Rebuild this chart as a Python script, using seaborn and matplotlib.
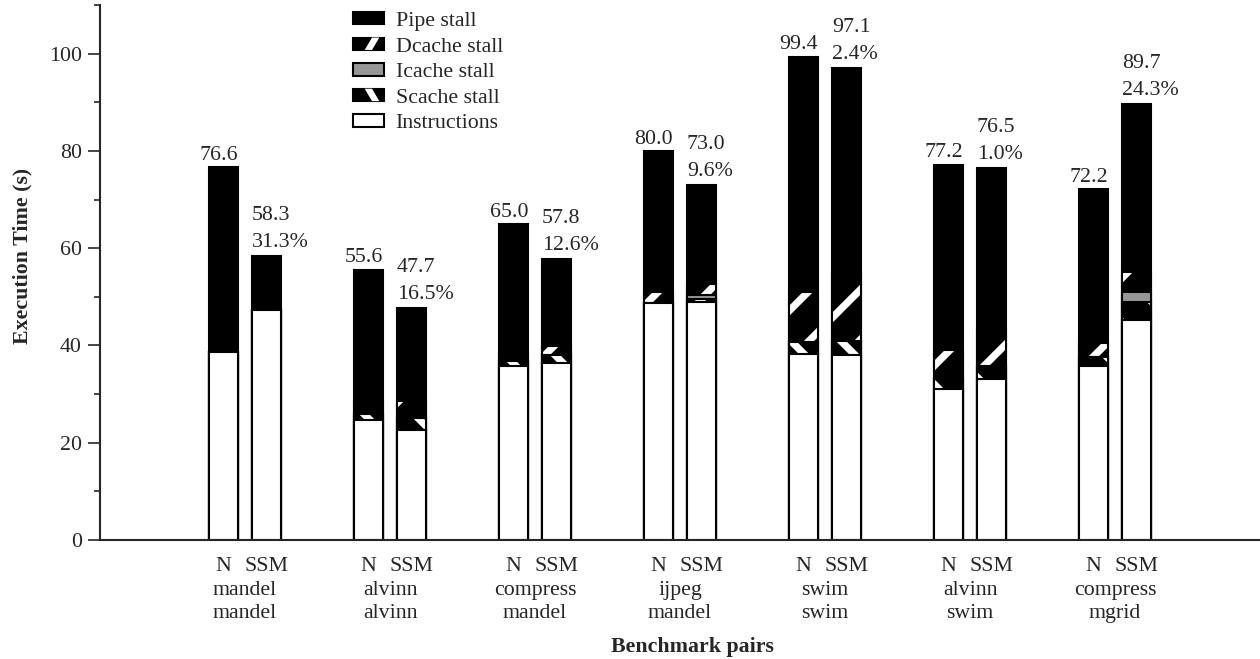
import matplotlib
matplotlib.use("Agg")
import numpy as np
import pandas as pd
import matplotlib.pyplot as plt
import matplotlib.transforms as mtransforms
from matplotlib.patches import Patch, Rectangle, Polygon
from matplotlib.legend_handler import HandlerBase
from matplotlib.ticker import MultipleLocator
import seaborn as sns

# ---------------- data ----------------
pairs = ["mandel\nmandel", "alvinn\nalvinn", "compress\nmandel", "ijpeg\nmandel",
         "swim\nswim", "alvinn\nswim", "compress\nmgrid"]
configs = ["N", "SSM"]

n_instructions = [38.7, 24.7, 35.7, 48.8, 38.3, 31.0, 35.8]
n_scache       = [0.0, 1.3, 1.2, 0.0, 2.5, 2.1, 1.9]
n_icache       = [0.0, 0.0, 0.0, 0.0, 0.0, 0.0, 0.0]
n_dcache       = [0.0, 2.5, 1.4, 2.1, 10.1, 6.0, 2.9]
n_total        = [76.6, 55.6, 65.0, 80.0, 99.4, 77.2, 72.2]

ssm_instructions = [47.2, 22.6, 36.4, 49.0, 38.0, 33.1, 45.3]
ssm_scache       = [0.0, 2.4, 1.7, 0.5, 3.0, 2.7, 3.7]
ssm_icache       = [0.0, 0.0, 0.0, 0.8, 0.0, 0.0, 2.0]
ssm_dcache       = [0.2, 3.5, 1.7, 2.3, 14.1, 7.4, 4.2]
ssm_total        = [58.3, 47.7, 57.8, 73.0, 97.1, 76.5, 89.7]
ssm_improvement  = [31.3, 16.5, 12.6, 9.6, 2.4, 1.0, 24.3]

# ---------------- table ----------------
rows = []
for cfg, ins, sc, ic, dc, tot in [
        ("N", n_instructions, n_scache, n_icache, n_dcache, n_total),
        ("SSM", ssm_instructions, ssm_scache, ssm_icache, ssm_dcache, ssm_total)]:
    for i, p in enumerate(pairs):
        c1 = ins[i]
        c2 = c1 + sc[i]
        c3 = c2 + ic[i]
        c4 = c3 + dc[i]
        c5 = tot[i]
        rows.append(dict(pair=p, config=cfg, c1=c1, c2=c2, c3=c3, c4=c4, c5=c5))
df = pd.DataFrame(rows)

# ---------------- style ----------------
sns.set_style("ticks")
plt.rcParams["font.family"] = ["Liberation Serif", "DejaVu Serif"]
plt.rcParams["hatch.linewidth"] = 3.5
plt.rcParams["axes.linewidth"] = 1.0

FS = 10.5
W, H = 1260, 659
fig = plt.figure(figsize=(W / 150, H / 150), dpi=150)
ax = fig.add_axes([100 / W, 1 - 540 / H, 1 - 100 / W, (540 - 5) / H])

layers = [
    ("Pipe stall", "c5", "black", None),
    ("Dcache stall", "c4", "black", "/"),
    ("Icache stall", "c3", "#969696", None),
    ("Scache stall", "c2", "black", "\\"),
    ("Instructions", "c1", "white", None),
]

top_patches = None
for name, col, color, hatch in layers:
    n0 = len(ax.patches)
    sns.barplot(data=df, x="pair", y=col, hue="config", order=pairs,
                hue_order=configs, palette={c: color for c in configs},
                width=0.59, gap=0.32, saturation=1, errorbar=None,
                edgecolor="black", linewidth=1.0, legend=False, ax=ax)
    new = ax.patches[n0:]
    for p in new:
        if hatch:
            p.set_hatch(hatch)
            p._hatch_color = (1, 1, 1, 1)
    if top_patches is None:
        top_patches = list(new)

# ---------------- annotations ----------------
tick_pos, tick_lab = [], []
for p in top_patches:
    cx = p.get_x() + p.get_width() / 2
    i = int(round(cx))
    h = p.get_height()
    if cx < i:
        tick_pos.append(cx); tick_lab.append("N")
        ax.annotate(f"{n_total[i]:.1f}", xy=(p.get_x() + p.get_width(), h),
                    xytext=(0, 3.4), textcoords="offset points",
                    ha="right", va="baseline", fontsize=FS)
    else:
        tick_pos.append(cx); tick_lab.append("SSM")
        ax.annotate(f"{ssm_improvement[i]:.1f}%", xy=(p.get_x(), h),
                    xytext=(0, 4.3), textcoords="offset points",
                    ha="left", va="baseline", fontsize=FS)
        ax.annotate(f"{ssm_total[i]:.1f}", xy=(p.get_x(), h),
                    xytext=(0, 17.3), textcoords="offset points",
                    ha="left", va="baseline", fontsize=FS)

order = np.argsort(tick_pos)
ax.set_xticks([tick_pos[k] for k in order], [tick_lab[k] for k in order])
ax.tick_params(axis="x", length=0, pad=8, labelsize=FS)

trans = mtransforms.blended_transform_factory(ax.transData, fig.transFigure)
for i, p in enumerate(pairs):
    a, b = p.split("\n")
    fig.text(i, 1 - 595 / H, a, transform=trans, ha="center", va="baseline", fontsize=FS)
    fig.text(i, 1 - 618 / H, b, transform=trans, ha="center", va="baseline", fontsize=FS)

# ---------------- axes ----------------
ax.set_xlim(-1, 7)
ax.set_ylim(0, 110)
ax.set_yticks([0, 20, 40, 60, 80, 100])
ax.yaxis.set_minor_locator(MultipleLocator(10))
ax.tick_params(axis="y", which="major", length=5.8, width=0.8, direction="out", labelsize=FS, pad=3)
ax.tick_params(axis="y", which="minor", length=2.9, width=0.8, direction="out")
ax.set_xlabel("")
ax.set_ylabel("")
sns.despine(ax=ax, top=True, right=True)
ax.spines["left"].set_linewidth(1.0)
ax.spines["bottom"].set_linewidth(1.0)

fig.text(22 / W, 1 - 256 / H, "Execution Time (s)", rotation=90, ha="center",
         va="center", fontsize=FS, fontweight="bold")
fig.text(692 / W, 1 - 652 / H, "Benchmark pairs", ha="center", va="baseline",
         fontsize=FS, fontweight="bold")


# ---------------- legend ----------------
class StripeHandler(HandlerBase):
    def __init__(self, direction, **kw):
        super().__init__(**kw)
        self.direction = direction

    def create_artists(self, legend, orig_handle, xdescent, ydescent, width,
                       height, fontsize, trans):
        x0, y0 = -xdescent, -ydescent
        rect = Rectangle((x0, y0), width, height, facecolor="black",
                         edgecolor="black", lw=1.0, transform=trans)
        if self.direction == "/":
            pts = [(x0 + 0.38 * width, y0), (x0 + 0.62 * width, y0),
                   (x0 + 0.86 * width, y0 + height), (x0 + 0.62 * width, y0 + height)]
        else:
            pts = [(x0 + 0.38 * width, y0 + height), (x0 + 0.62 * width, y0 + height),
                   (x0 + 0.86 * width, y0), (x0 + 0.62 * width, y0)]
        poly = Polygon(pts, closed=True, facecolor="white", edgecolor="none",
                       transform=trans)
        return [rect, poly]


handles = []
hmap = {}
for name, col, color, hatch in layers:
    hp = Patch(facecolor=color, edgecolor="black", linewidth=1.0, label=name)
    handles.append(hp)
    if hatch:
        hmap[hp] = StripeHandler(hatch)
leg = fig.legend(handles=handles, handler_map=hmap, loc="upper left",
                 bbox_to_anchor=(353 / W, 1 - 12 / H),
                 bbox_transform=fig.transFigure, frameon=False, fontsize=FS,
                 handlelength=1.4, handleheight=0.5, handletextpad=0.55,
                 labelspacing=0.3, borderpad=0, borderaxespad=0)

fig.savefig("out.png", dpi=150)
